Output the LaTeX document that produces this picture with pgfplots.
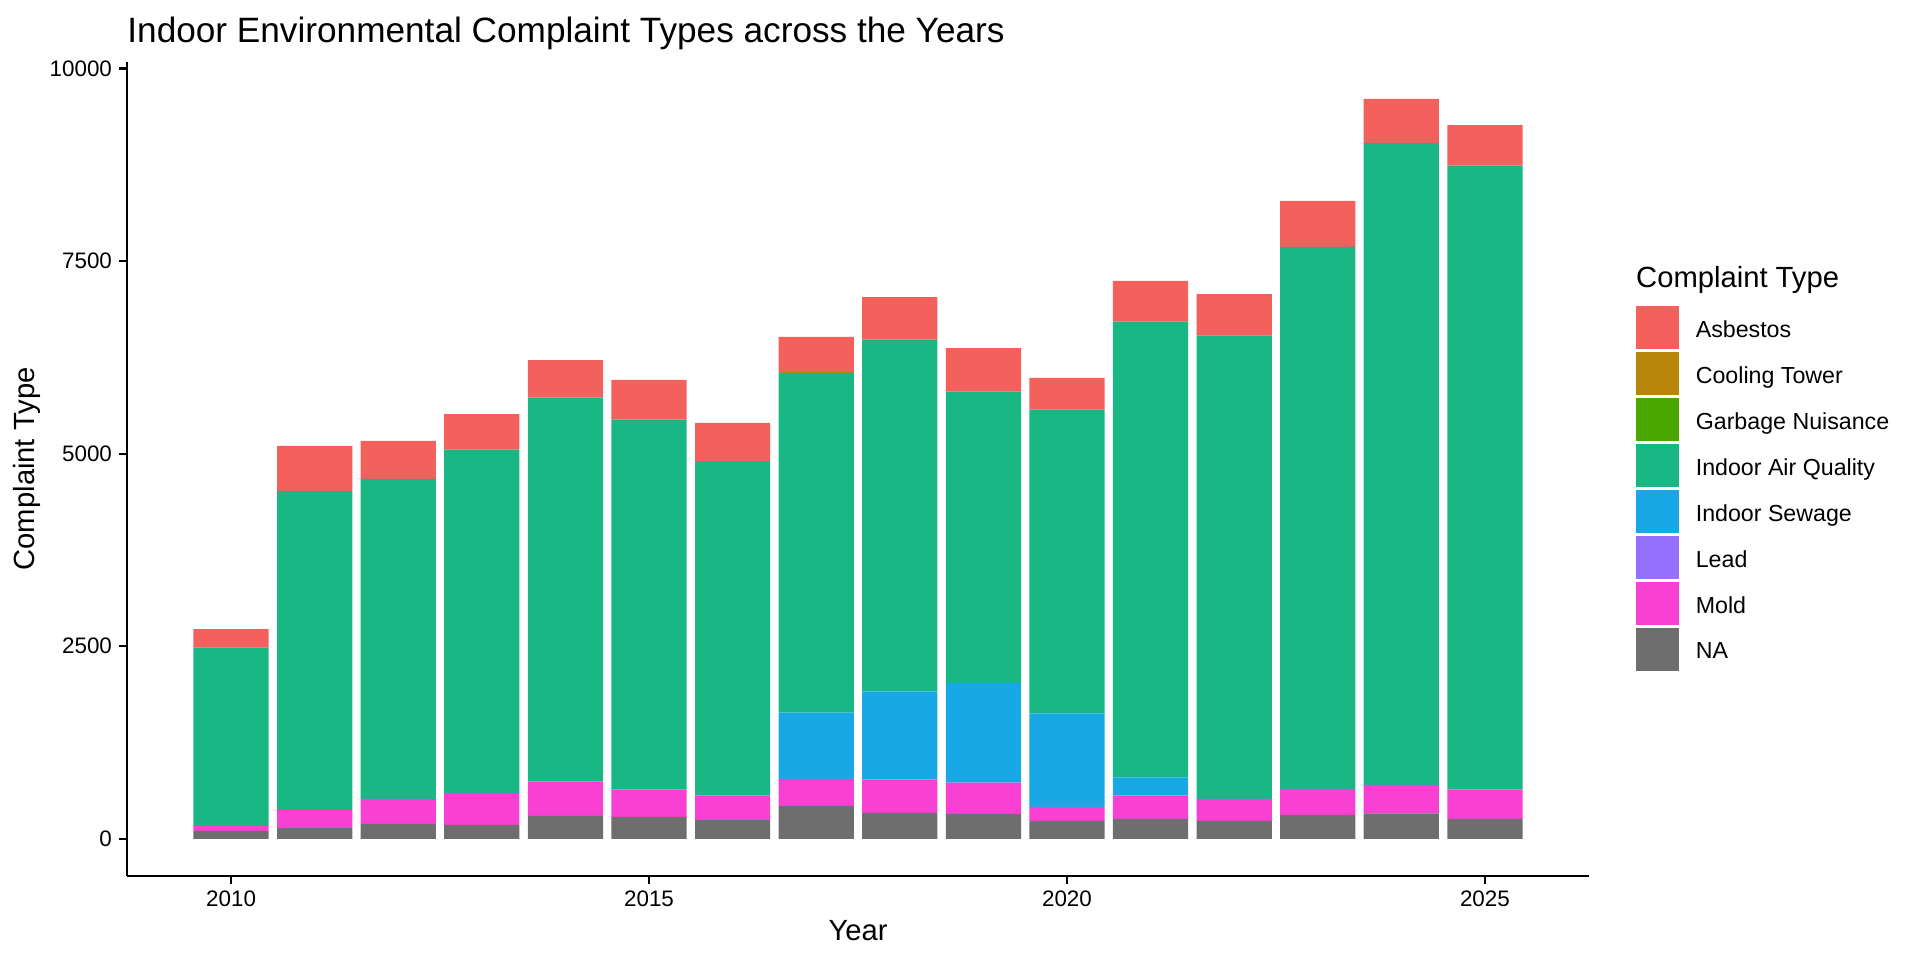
\documentclass[border=0pt]{standalone}
\usepackage{fontspec}
\setmainfont{Liberation Sans}
\usepackage{pgfplots}
\usepackage{pgfplotstable}
\pgfplotsset{compat=1.18}

\definecolor{cAsb}{HTML}{F4605C}
\definecolor{cCool}{HTML}{B8860B}
\definecolor{cGarb}{HTML}{49A700}
\definecolor{cIAQ}{HTML}{18B784}
\definecolor{cSew}{HTML}{17A8E5}
\definecolor{cLead}{HTML}{9570FF}
\definecolor{cMold}{HTML}{F841D3}
\definecolor{cNA}{HTML}{6E6E6E}

% square legend keys
\pgfplotsset{sqlegend/.style={legend image code/.code={\fill[##1] (0pt,-9.2pt) rectangle (21.5pt,12.1pt);}}}

% complaints per year and type
\pgfplotstableread{
year NA  Mold Lead Sewage IAQ  Garbage Cooling Asbestos
2010 104 65   0    0      2312 0       0       243
2011 143 234  0    0      4139 0       0       584
2012 195 325  0    0      4152 0       0       493
2013 182 416  0    0      4454 0       0       463
2014 299 446  0    0      4982 0       0       489
2015 286 355  0    0      4801 0       0       515
2016 247 316  0    0      4342 0       0       494
2017 429 350  0    858    4411 0       15      453
2018 338 433  0    1143   4566 0       0       553
2019 325 403  0    1298   3779 0       0       567
2020 234 182  0    1212   3944 0       0       411
2021 260 303  0    234    5917 0       0       528
2022 234 286  0    0      6012 0       0       541
2023 312 338  0    0      7034 0       0       597
2024 329 372  0    0      8333 0       0       571
2025 260 381  0    0      8099 0       0       527
}\complaints

\begin{document}
\begin{tikzpicture}
\useasboundingbox (-63.5pt,-42.1pt) rectangle (896.5pt,437.9pt);
\begin{axis}[
  name=ax, at={(0pt,0pt)}, anchor=south west,
  scale only axis, width=731pt, height=406.9pt,
  ybar stacked, bar width=0.9,
  xmin=2008.755, xmax=2026.245, ymin=-480.25, ymax=10085.25,
  axis x line*=bottom, axis y line*=left,
  axis line style={line width=1.1pt, black, -},
  xtick={2010,2015,2020,2025}, ytick={0,2500,5000,7500,10000},
  scaled y ticks=false, scaled x ticks=false,
  minor tick num=0,
  tick align=outside, major tick length=4pt,
  tick style={line width=1.1pt, black},
  /pgf/number format/1000 sep={}, /pgf/number format/assume math mode=true,
  ticklabel style={font=\fontsize{11.2}{13}\selectfont, text=black},
  xlabel={Year}, ylabel={Complaint Type},
  every axis x label/.style={at={(rel axis cs:0.5,-0.0673)}, anchor=center, font=\fontsize{14.6}{17}\selectfont},
  every axis y label/.style={at={(rel axis cs:-0.0684,0.5)}, anchor=center, rotate=90, font=\fontsize{14.6}{17}\selectfont},
  reverse legend,
  legend cell align=left,
  legend style={at={(rel axis cs:1.032,0.6998)}, anchor=north west, draw=none, fill=none,
    inner sep=0pt, outer sep=0pt, font=\fontsize{11.6}{13.9}\selectfont, row sep=1.7pt,
    nodes={inner xsep=0pt, inner ysep=0pt},
    /tikz/every odd column/.append style={column sep=8.5pt}},
  clip=false,
]
\addplot[fill=cNA,   draw=none, sqlegend] table[x=year, y=NA]       {\complaints}; \addlegendentry{NA}
\addplot[fill=cMold, draw=none, sqlegend] table[x=year, y=Mold]     {\complaints}; \addlegendentry{Mold}
\addplot[fill=cLead, draw=none, sqlegend] table[x=year, y=Lead]     {\complaints}; \addlegendentry{Lead}
\addplot[fill=cSew,  draw=none, sqlegend] table[x=year, y=Sewage]   {\complaints}; \addlegendentry{Indoor Sewage}
\addplot[fill=cIAQ,  draw=none, sqlegend] table[x=year, y=IAQ]      {\complaints}; \addlegendentry{Indoor Air Quality}
\addplot[fill=cGarb, draw=none, sqlegend] table[x=year, y=Garbage]  {\complaints}; \addlegendentry{Garbage Nuisance}
\addplot[fill=cCool, draw=none, sqlegend] table[x=year, y=Cooling]  {\complaints}; \addlegendentry{Cooling Tower}
\addplot[fill=cAsb,  draw=none, sqlegend] table[x=year, y=Asbestos] {\complaints}; \addlegendentry{Asbestos}
\node[anchor=base west, inner sep=0pt, font=\fontsize{14.6}{17}\selectfont] at (rel axis cs:1.032,0.7235) {Complaint Type};
\end{axis}
\node[anchor=base west, inner sep=0pt, font=\fontsize{17.6}{21}\selectfont] at ([yshift=9.7pt]ax.north west) {Indoor Environmental Complaint Types across the Years};
\end{tikzpicture}
\end{document}
